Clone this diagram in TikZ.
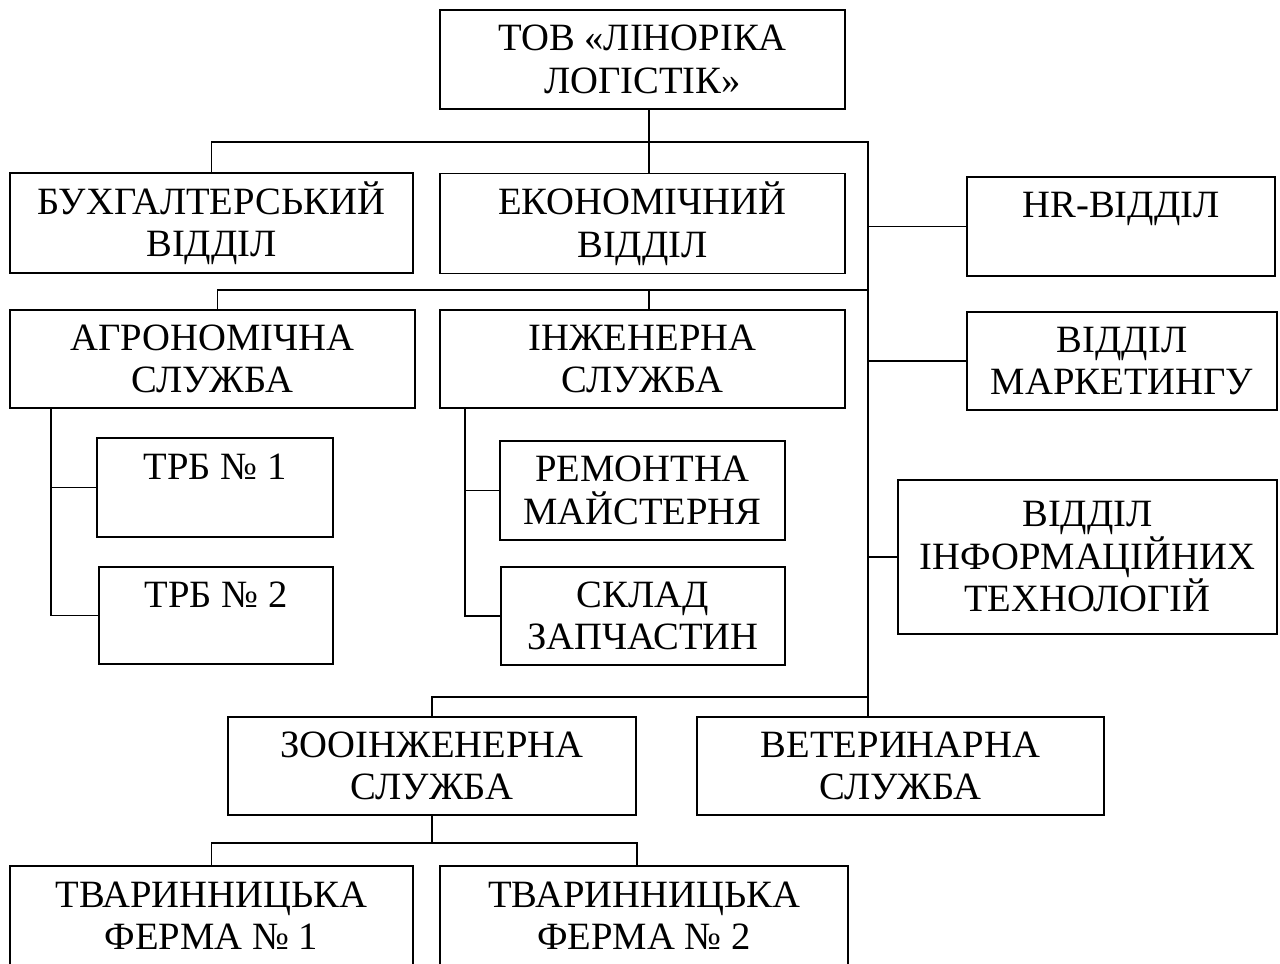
\documentclass[tikz,border=0pt]{standalone}
\usepackage{fontspec}
\setmainfont{Liberation Serif}

\begin{document}
\begin{tikzpicture}[x=0.02cm, y=-0.02cm, line width=0.9pt,
  box/.style = {draw, align=center, inner sep=0pt, font=\fontsize{22}{24.2}\selectfont}]
\path[use as bounding box, clip] (0,0) rectangle (1280,963);
% boxes
\node[box, minimum width=8.1cm, minimum height=1.98cm] (tov) at (642.5,59.5) {ТОВ «ЛІНОРІКА\\ЛОГІСТІК»};
\node[box, minimum width=8.06cm, minimum height=2cm] (buh) at (211.5,223) {БУХГАЛТЕРСЬКИЙ\\ВІДДІЛ};
\node[box, minimum width=8.1cm, minimum height=2cm] (eko) at (642.5,223.5) {ЕКОНОМІЧНИЙ\\ВІДДІЛ};
\node[box, minimum width=6.16cm, minimum height=1.98cm] (hr) at (1121,226.5) {HR-ВІДДІЛ\\\mbox{}};
\node[box, minimum width=8.1cm, minimum height=1.96cm] (agro) at (212.5,359) {АГРОНОМІЧНА\\СЛУЖБА};
\node[box, minimum width=8.1cm, minimum height=1.96cm] (inzh) at (642.5,359) {ІНЖЕНЕРНА\\СЛУЖБА};
\node[box, minimum width=6.2cm, minimum height=1.96cm] (mark) at (1122,361) {ВІДДІЛ\\МАРКЕТИНГУ};
\node[box, minimum width=4.72cm, minimum height=1.98cm] (trb1) at (215,487.5) {ТРБ № 1\\\mbox{}};
\node[box, minimum width=4.68cm, minimum height=1.94cm] (trb2) at (216,615.5) {ТРБ № 2\\\mbox{}};
\node[box, minimum width=5.7cm, minimum height=1.98cm] (rem) at (642.5,490.5) {РЕМОНТНА\\МАЙСТЕРНЯ};
\node[box, minimum width=5.68cm, minimum height=1.96cm] (sklad) at (643,616) {СКЛАД\\ЗАПЧАСТИН};
\node[box, minimum width=7.58cm, minimum height=3.08cm] (it) at (1087.5,557) {ВІДДІЛ\\ІНФОРМАЦІЙНИХ\\ТЕХНОЛОГІЙ};
\node[box, minimum width=8.16cm, minimum height=1.96cm] (zoo) at (432,766) {ЗООІНЖЕНЕРНА\\СЛУЖБА};
\node[box, minimum width=8.14cm, minimum height=1.96cm] (vet) at (900.5,766) {ВЕТЕРИНАРНА\\СЛУЖБА};
\node[box, minimum width=8.06cm, minimum height=1.98cm] (tv1) at (211.5,915.5) {ТВАРИННИЦЬКА\\ФЕРМА № 1};
\node[box, minimum width=8.16cm, minimum height=1.98cm] (tv2) at (644,915.5) {ТВАРИННИЦЬКА\\ФЕРМА № 2};
% buses
\coordinate (t) at (649,142);
\coordinate (j1) at (868,142);
\coordinate (j2) at (868,290);
\coordinate (j3) at (868,697);
\coordinate (ag) at (51,0);
\coordinate (in) at (465,0);
\coordinate (z) at (0,843);
\coordinate (f2) at (637,0);
% lines
\draw (tov.south -| t) -- (eko.north -| t);
\draw (buh.north) |- (j1) -- (j1 |- vet.north);
\draw ([xshift=0.1cm]agro.north) |- (j2);
\draw (inzh.north -| t) -- (t |- j2);
\draw (j1 |- hr.west) -- (hr.west);
\draw (j1 |- mark.west) -- (mark.west);
\draw (j1 |- it.west) -- (it.west);
\draw (zoo.north) |- (j3);
\draw (agro.south -| ag) |- (trb2.west);
\draw (ag |- trb1.west) -- (trb1.west);
\draw (inzh.south -| in) |- (sklad.west);
\draw (in |- rem.west) -- (rem.west);
\draw (zoo.south) -- (zoo.south |- z);
\draw (tv1.north) |- (f2 |- z) -- (tv2.north -| f2);
\end{tikzpicture}
\end{document}
